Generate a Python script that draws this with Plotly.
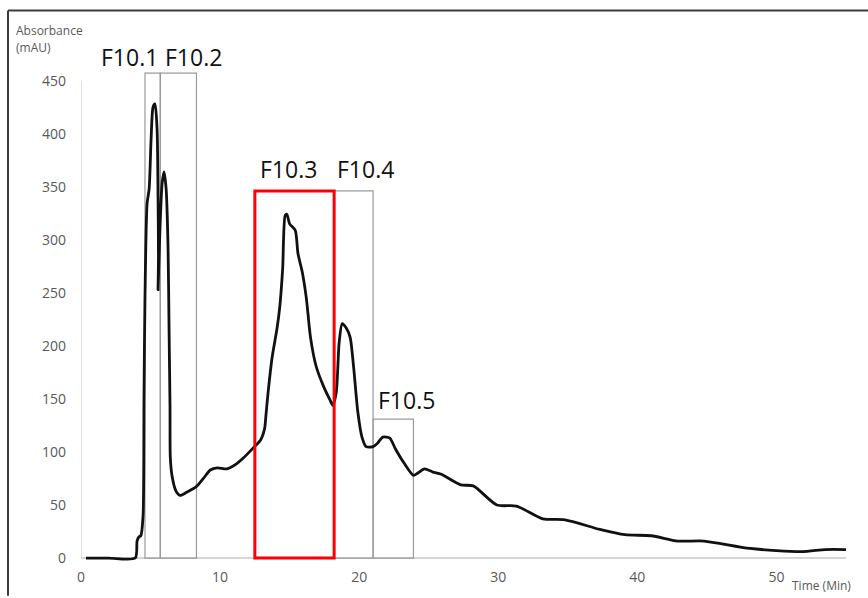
import plotly.graph_objects as go

# Chromatogram trace (time in minutes, absorbance in mAU), in acquisition order
time_min = [
    0.36, 2.0, 3.9, 4.03, 4.17, 4.3, 4.46, 4.53, 4.6, 4.75, 4.9, 5.04, 5.18, 5.32,
    5.47, 5.54, 5.57, 5.54, 5.68, 5.83, 5.97, 6.12, 6.26, 6.33, 6.4, 6.42,
    6.55, 6.83, 7.12, 7.6, 8.27, 8.8, 9.3, 9.8, 10.5, 11.1, 11.65, 12.4,
    12.9, 13.2, 13.3, 13.45, 13.74, 14.1, 14.3, 14.5, 14.68, 14.8, 15.0,
    15.4, 15.6, 15.9, 16.2, 16.5, 16.9, 17.4, 17.9, 18.1, 18.35, 18.56,
    18.78, 19.06, 19.35, 19.6, 19.9, 20.2, 20.5, 21.0, 21.3, 21.7, 22.2,
    22.6, 23.2, 23.9, 24.2, 24.7, 25.3, 25.9, 27.3, 28.2, 29.9, 31.3, 33.2,
    34.8, 37.3, 39.1, 41.0, 42.9, 44.8, 48.1, 51.8, 53.5, 55.0,
]
absorbance_mau = [
    0, 0, 0, 16, 20, 21, 39, 152, 245, 334, 348, 395, 425, 428,
    404, 339, 283, 253, 311, 353, 364, 348, 292, 217, 142, 95,
    77, 63, 59, 62, 67, 75, 83, 85, 84, 88, 94, 104,
    111, 122, 135, 156, 189, 217, 238, 273, 323, 324, 315,
    309, 287, 270, 245, 208, 181, 163, 149, 144, 156, 203,
    221, 217, 208, 180, 138, 114, 105, 105, 108, 114, 113,
    103, 90, 78, 80, 84, 81, 79, 69, 68, 50, 49, 37,
    36, 27, 22, 21, 16, 16, 9, 6, 8, 8,
]

# Collected fractions
frac_names = ["F10.1", "F10.2", "F10.3", "F10.4", "F10.5"]
frac_start = [4.6, 5.7, 12.5, 18.2, 21.0]
frac_end = [5.7, 8.3, 18.2, 21.0, 23.9]
frac_top = [457, 457, 346, 346, 131]
frac_label_x = [3.5, 8.1, 14.95, 20.45, 23.4]
frac_label_y = [472, 472, 367, 367, 149]
highlighted = "F10.3"

x_ticks = [0, 10, 20, 30, 40, 50]
y_ticks = [0, 50, 100, 150, 200, 250, 300, 350, 400, 450]

W, H = 868, 598
ML, MR, MT, MB = 81, 22, 70, 32
PW, PH = W - ML - MR, H - MT - MB
X_RANGE = [0, 55]
Y_TOP = 460
Y_PX = (H - MT - 36) / Y_TOP          # pixels per mAU
Y_RANGE = [-(PH - Y_TOP * Y_PX) / Y_PX, Y_TOP]

fig = go.Figure()


def px_to_paper_x(px):
    return (px - ML) / PW


def py_to_paper_y(py):
    return (H - MB - py) / PH


def val_to_paper_y(v):
    return (v - Y_RANGE[0]) / (Y_RANGE[1] - Y_RANGE[0])


shapes = []
# axis lines
shapes.append(dict(type="line", xref="x", yref="y", x0=0, x1=55, y0=0, y1=0,
                   line=dict(color="#c8c8c8", width=1.5), layer="below"))
shapes.append(dict(type="line", xref="x", yref="y", x0=0, x1=0, y0=0, y1=450,
                   line=dict(color="#c8c8c8", width=1), layer="below"))

# fraction boxes (grey first, highlighted on top)
order = [i for i, n in enumerate(frac_names) if n != highlighted] + \
        [i for i, n in enumerate(frac_names) if n == highlighted]
for i in order:
    hl = frac_names[i] == highlighted
    shapes.append(dict(
        type="rect", xref="x", yref="y",
        x0=frac_start[i], x1=frac_end[i], y0=0, y1=frac_top[i],
        line=dict(color="#ff0000" if hl else "#9a9a9a", width=3 if hl else 1.2),
        fillcolor="rgba(0,0,0,0)", layer="above" if hl else "below",
    ))

# outer frame (top and left edges)
shapes.append(dict(type="line", xref="paper", yref="paper",
                   x0=px_to_paper_x(8), x1=px_to_paper_x(W + 2),
                   y0=py_to_paper_y(10), y1=py_to_paper_y(10),
                   line=dict(color="#3c3c3c", width=2)))
shapes.append(dict(type="line", xref="paper", yref="paper",
                   x0=px_to_paper_x(8), x1=px_to_paper_x(8),
                   y0=py_to_paper_y(10), y1=py_to_paper_y(H + 2),
                   line=dict(color="#3c3c3c", width=2)))

fig.add_trace(go.Scatter(
    x=time_min, y=absorbance_mau, mode="lines",
    line=dict(color="#111111", width=2.8, shape="spline", smoothing=0.7),
    hoverinfo="x+y", showlegend=False,
))

annotations = []
x_span = X_RANGE[1] - X_RANGE[0]
for i, name in enumerate(frac_names):
    annotations.append(dict(
        x=(frac_label_x[i] - X_RANGE[0]) / x_span, y=val_to_paper_y(frac_label_y[i]),
        xref="paper", yref="paper",
        text=name, showarrow=False,
        font=dict(family="Open Sans", size=23, color="#111111"),
        xanchor="center", yanchor="middle",
    ))

annotations.append(dict(
    x=px_to_paper_x(14), y=py_to_paper_y(30), xref="paper", yref="paper",
    text="Absorbance", showarrow=False, xanchor="left", yanchor="middle",
    font=dict(family="Open Sans", size=12, color="#595959"),
))
annotations.append(dict(
    x=px_to_paper_x(14), y=py_to_paper_y(47), xref="paper", yref="paper",
    text="(mAU)", showarrow=False, xanchor="left", yanchor="middle",
    font=dict(family="Open Sans", size=12, color="#595959"),
))
annotations.append(dict(
    x=px_to_paper_x(790), y=py_to_paper_y(590), xref="paper", yref="paper",
    text="Time (Min)", showarrow=False, xanchor="left", yanchor="middle",
    font=dict(family="Open Sans", size=12, color="#595959"),
))

fig.update_layout(
    width=W, height=H, autosize=False,
    margin=dict(l=ML, r=MR, t=MT, b=MB, pad=0),
    paper_bgcolor="white", plot_bgcolor="white",
    shapes=shapes, annotations=annotations,
    xaxis=dict(range=X_RANGE, tickvals=x_ticks, showgrid=False, zeroline=False,
               showline=False, ticks="", ticklabelstandoff=5,
               tickfont=dict(family="Open Sans", size=14, color="#595959")),
    yaxis=dict(range=Y_RANGE, tickvals=y_ticks, showgrid=False, zeroline=False,
               showline=False, ticks="", ticklabelstandoff=14,
               tickfont=dict(family="Open Sans", size=14, color="#595959")),
)

fig.write_html("out.html")
